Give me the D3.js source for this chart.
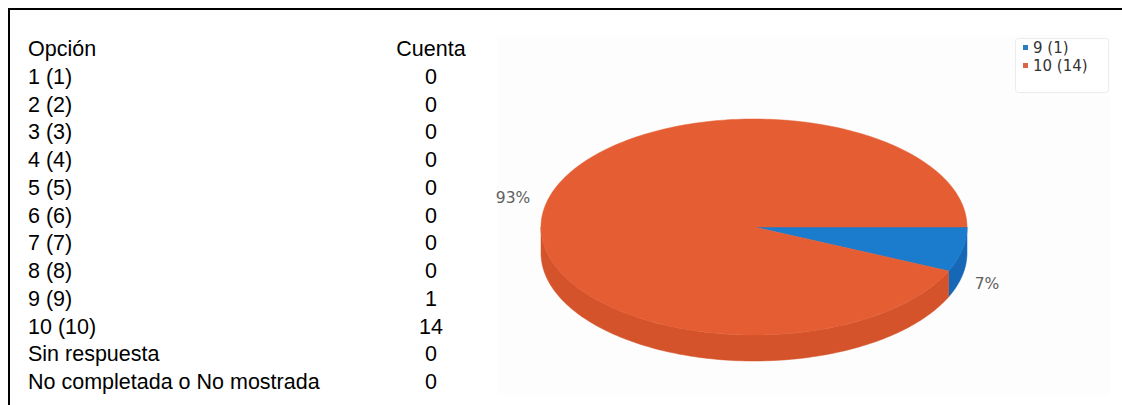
<!DOCTYPE html>
<html>
<head>
<meta charset="utf-8">
<script src="https://cdn.jsdelivr.net/npm/d3@7"></script>
<style>
  html, body { margin: 0; padding: 0; background: #fff; }
  svg { display: block; }
</style>
</head>
<body>
<svg id="chart" width="1122" height="405"></svg>
<script>
// ---- data ----
const options = ["1 (1)", "2 (2)", "3 (3)", "4 (4)", "5 (5)", "6 (6)", "7 (7)", "8 (8)", "9 (9)", "10 (10)", "Sin respuesta", "No completada o No mostrada"];
const counts = [0, 0, 0, 0, 0, 0, 0, 0, 1, 14, 0, 0];
const tableHeaders = ["Opción", "Cuenta"];
const pieLabels = ["9 (1)", "10 (14)"];
const pieValues = [1, 14];
const pieColors = ["#1b7bcc", "#e55d33"];
const pieSideColors = ["#1667b6", "#d4532b"];
const legendColors = ["#2c7cc0", "#db6448"];

const svg = d3.select("#chart");

// frame (top and left border)
svg.append("line").attr("x1", 9).attr("y1", 9).attr("x2", 1122).attr("y2", 9)
  .attr("stroke", "#000").attr("stroke-width", 2);
svg.append("line").attr("x1", 9).attr("y1", 8).attr("x2", 9).attr("y2", 405)
  .attr("stroke", "#000").attr("stroke-width", 2);

// ---- table ----
const rowY = d3.scalePoint().domain(d3.range(options.length + 1)).range([56, 389]);
const tFont = "'Liberation Sans', Arial, sans-serif";
const table = svg.append("g").attr("font-family", tFont).attr("font-size", 21.5).attr("fill", "#000");
table.append("text").attr("x", 28).attr("y", rowY(0)).text(tableHeaders[0]);
table.append("text").attr("x", 431).attr("y", rowY(0)).attr("text-anchor", "middle").text(tableHeaders[1]);
options.forEach((o, i) => {
  table.append("text").attr("x", 28).attr("y", rowY(i + 1)).text(o);
  table.append("text").attr("x", 431).attr("y", rowY(i + 1)).attr("text-anchor", "middle").text(counts[i]);
});

// ---- chart container ----
svg.append("rect").attr("x", 497).attr("y", 35).attr("width", 613).attr("height", 360)
  .attr("fill", "#fdfdfd");

// ---- 3D pie ----
const cx = 754, cy = 227, rx = 213, ry = 108, depth = 26;
const pie = d3.pie().sort(null).startAngle(Math.PI / 2).endAngle(Math.PI / 2 + 2 * Math.PI);
const arcs = pie(pieValues);
const px = a => cx + rx * Math.sin(a);
const py = a => cy - ry * Math.cos(a);
const line = d3.line();
function samples(a0, a1) {
  const n = Math.max(2, Math.ceil(Math.abs(a1 - a0) / 0.02));
  return d3.range(n + 1).map(k => a0 + (a1 - a0) * k / n);
}
const g = svg.append("g");
// side walls (front half only)
arcs.forEach((d, i) => {
  const segs = [];
  const fronts = [[Math.PI / 2, 3 * Math.PI / 2], [Math.PI / 2 + 2 * Math.PI, 3 * Math.PI / 2 + 2 * Math.PI]];
  fronts.forEach(([f0, f1]) => {
    const a0 = Math.max(f0, d.startAngle), a1 = Math.min(f1, d.endAngle);
    if (a1 > a0) segs.push([a0, a1]);
  });
  segs.forEach(([a0, a1]) => {
    const s = samples(a0, a1);
    const top = s.map(a => [px(a), py(a)]);
    const bot = s.slice().reverse().map(a => [px(a), py(a) + depth]);
    g.append("path").attr("d", line(top.concat(bot)) + "Z")
      .attr("fill", pieSideColors[i]).attr("stroke", pieSideColors[i]).attr("stroke-width", 0.5);
  });
});
// top faces
arcs.forEach((d, i) => {
  const s = samples(d.startAngle, d.endAngle);
  const pts = [[cx, cy]].concat(s.map(a => [px(a), py(a)]));
  g.append("path").attr("d", line(pts) + "Z")
    .attr("fill", pieColors[i]).attr("stroke", pieColors[i]).attr("stroke-width", 0.5);
});

// percentage labels
const lFont = "'DejaVu Sans', sans-serif";
const total = d3.sum(pieValues);
const labelPos = [[987, 289], [513, 203]];
arcs.forEach((d, i) => {
  svg.append("text").attr("x", labelPos[i][0]).attr("y", labelPos[i][1])
    .attr("text-anchor", "middle").attr("font-family", lFont).attr("font-size", 15.5)
    .attr("fill", "#606060").text(Math.round(d.value / total * 100) + "%");
});

// legend
const lg = svg.append("g");
lg.append("rect").attr("x", 1015.5).attr("y", 38.5).attr("width", 93).attr("height", 54)
  .attr("rx", 3).attr("fill", "#fff").attr("stroke", "#ececec");
pieLabels.forEach((t, i) => {
  const y = 48 + i * 18;
  lg.append("rect").attr("x", 1023).attr("y", y - 3).attr("width", 5).attr("height", 5).attr("fill", legendColors[i]);
  lg.append("text").attr("x", 1033).attr("y", y + 5).attr("font-family", lFont).attr("font-size", 15)
    .attr("fill", "#333").text(t);
});
</script>
</body>
</html>
